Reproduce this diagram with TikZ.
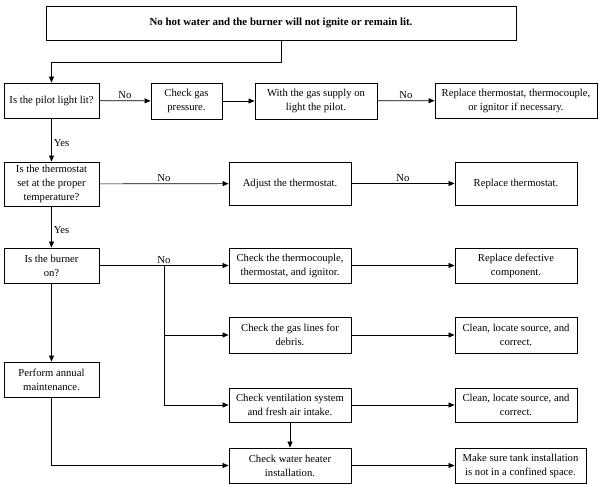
\documentclass[tikz,border=0pt]{standalone}
\usepackage{fontspec}
\setmainfont{Liberation Serif}
\usetikzlibrary{arrows.meta}

\begin{document}
\begin{tikzpicture}[x=1bp, y=-1bp, >={Triangle[length=6bp,width=5bp]},
  box/.style={draw, line width=0.9bp, align=center, inner sep=1bp,
    minimum height=35bp, font=\fontsize{10.7}{14}\selectfont},
  lbox/.style={box, minimum width=95bp},
  mbox/.style={box, minimum width=122bp},
  conn/.style={->, line width=0.7bp},
  lbl/.style={font=\fontsize{10.7}{12}\selectfont, inner sep=2bp}]
  \useasboundingbox (0,0) rectangle (600,485);
  % problem
  \node[box, minimum width=470bp, minimum height=34bp,
    font={\fontsize{10.9}{14}\selectfont\bfseries}] (top) at (281,23)
    {No hot water and the burner will not ignite or remain lit.};
  % left column
  \node[lbox] (pilot) at (51.5,100.5) {Is the pilot light lit?};
  \node[lbox, minimum height=44bp] (thermo) at (51.5,184) {Is the thermostat\\set at the proper\\temperature?};
  \node[lbox] (burner) at (51.5,265.5) {Is the burner\\on?};
  \node[lbox] (annual) at (51.5,379.5) {Perform annual\\maintenance.};
  % top row
  \node[box, minimum width=71bp, minimum height=36bp] (gas) at (186.5,101) {Check gas\\pressure.};
  \node[mbox, minimum height=36bp] (supply) at (316,101) {With the gas supply on\\light the pilot.};
  \node[box, minimum width=162bp] (replall) at (516,100.5) {Replace thermostat, thermocouple,\\or ignitor if necessary.};
  % middle column
  \node[mbox, minimum height=43bp] (adjust) at (290,183.5) {Adjust the thermostat.};
  \node[mbox] (checktc) at (290,265.5) {Check the thermocouple,\\thermostat, and ignitor.};
  \node[mbox, minimum height=36bp] (gaslines) at (290,335) {Check the gas lines for\\debris.};
  \node[mbox, minimum height=34bp] (vent) at (290,405) {Check ventilation system\\and fresh air intake.};
  \node[mbox] (water) at (290,465.5) {Check water heater\\installation.};
  % right column
  \node[mbox, minimum height=43bp] (replthermo) at (516,183.5) {Replace thermostat.};
  \node[mbox] (repldef) at (516,265.5) {Replace defective\\component.};
  \node[mbox, minimum height=36bp] (clean1) at (516,335) {Clean, locate source, and\\correct.};
  \node[mbox, minimum height=34bp] (clean2) at (516,405) {Clean, locate source, and\\correct.};
  \node[box, minimum width=131bp] (tank) at (520.5,465.5) {Make sure tank installation\\is not in a confined space.};
  \coordinate (split) at (164,265.5);

  \draw[conn] (top.south) -- ++(0,22) -| (pilot.north);
  \draw[conn] (pilot) -- node[lbl, midway, above]{No} (gas);
  \draw[conn] (gas) -- (supply);
  \draw[conn] (supply) -- node[lbl, midway, above]{No} (replall);
  \draw[conn] (pilot) -- node[lbl, midway, right, yshift=-3bp]{Yes} (thermo);
  \draw[conn] (thermo) -- node[lbl, midway, above]{No} (adjust);
  \draw[conn] (adjust) -- node[lbl, midway, above]{No} (replthermo);
  \draw[conn] (thermo) -- node[lbl, midway, right, yshift=-3bp]{Yes} (burner);
  \draw[conn] (burner) -- node[lbl, midway, above]{No} (checktc);
  \draw[conn] (split) |- (gaslines.west);
  \draw[conn] (split) |- (vent.west);
  \draw[conn] (checktc) -- (repldef);
  \draw[conn] (gaslines) -- (clean1);
  \draw[conn] (vent) -- (clean2);
  \draw[conn] (vent) -- (water);
  \draw[conn] (water) -- (tank);
  \draw[conn] (burner) -- (annual);
  \draw[conn] (annual.south) |- (water.west);
\end{tikzpicture}
\end{document}
